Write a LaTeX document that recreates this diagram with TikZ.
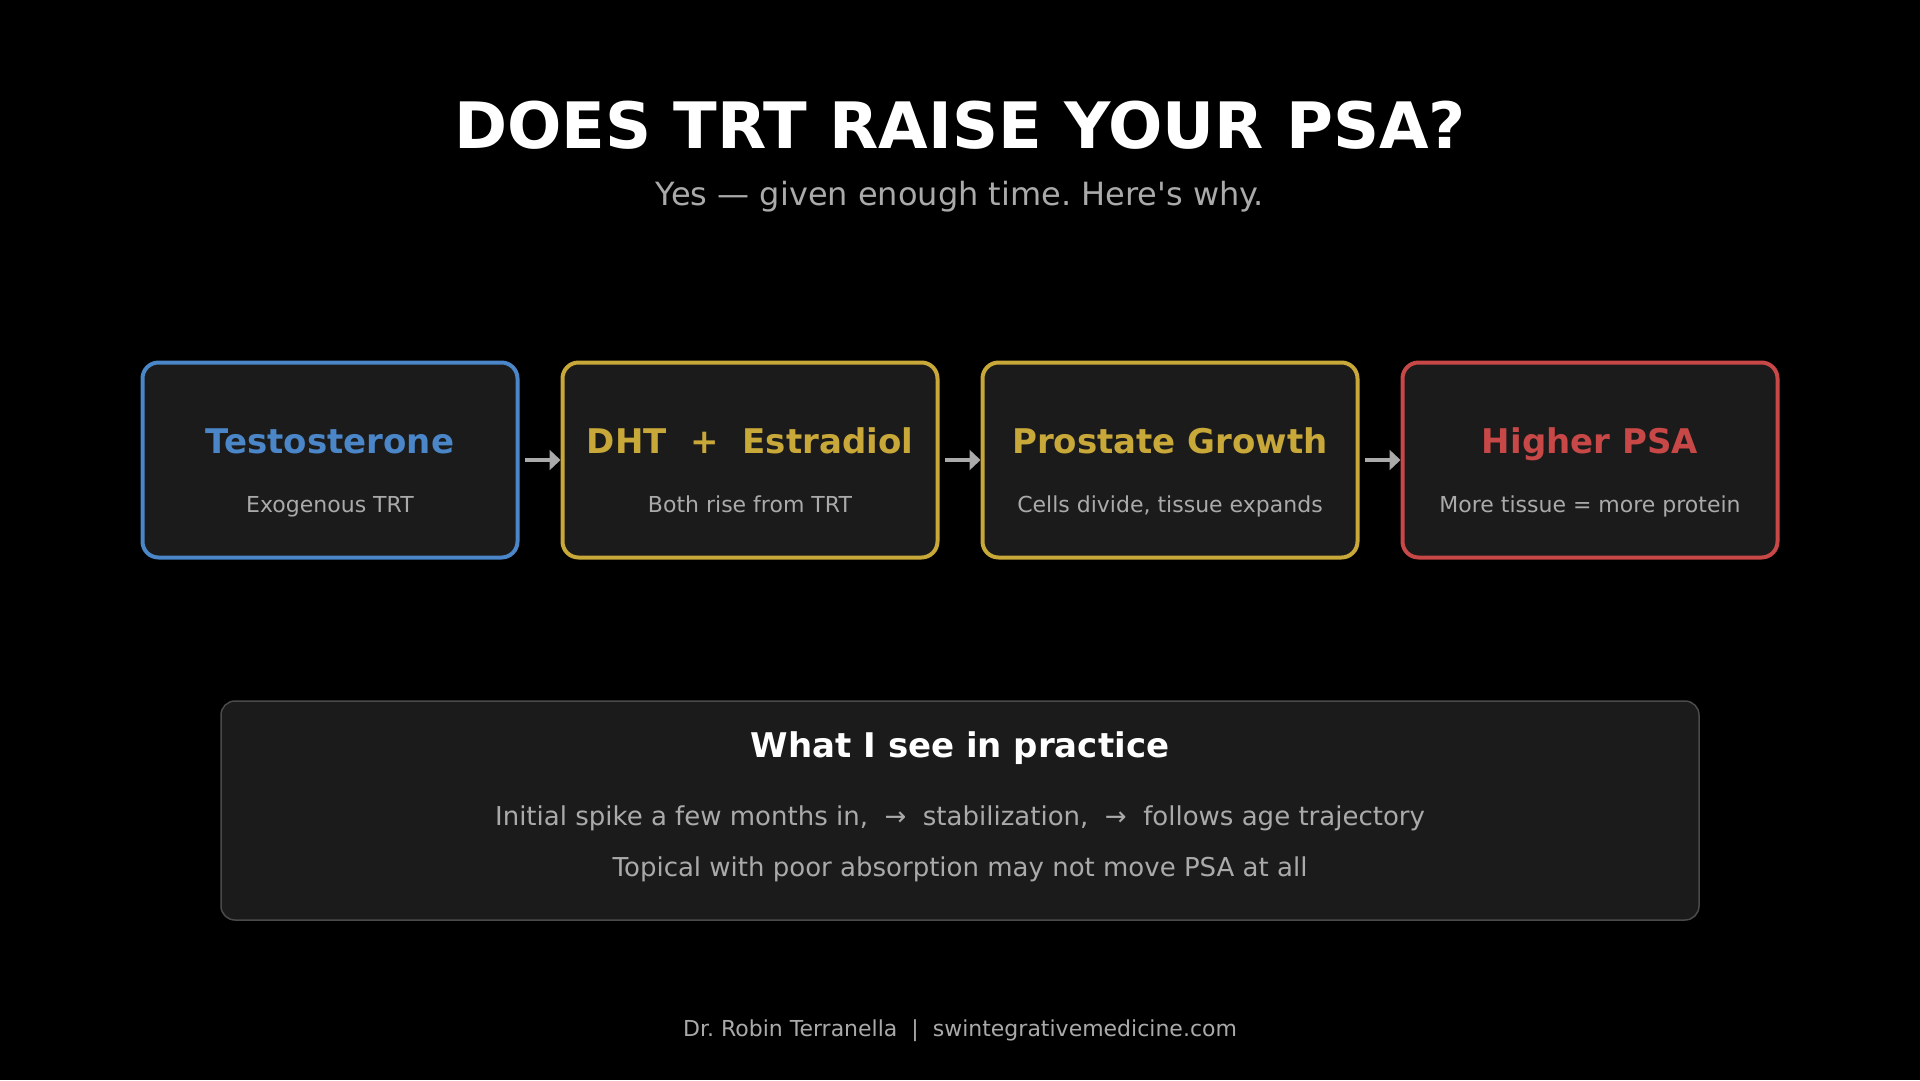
\documentclass[tikz,border=0pt]{standalone}
\usepackage{fontspec}
\setmainfont{DejaVu Sans}
\usetikzlibrary{arrows.meta}
\definecolor{boxfill}{HTML}{1B1B1B}
\definecolor{tblue}{HTML}{4A86C8}
\definecolor{dgold}{HTML}{C9A83A}
\definecolor{pred}{HTML}{C84848}
\definecolor{softgray}{HTML}{AAAAAA}
\definecolor{edgegray}{HTML}{4A4A4A}
\frenchspacing

\begin{document}
\begin{tikzpicture}[x=1pt, y=-1pt,
    stage/.style={draw=#1, line width=4pt, fill=boxfill, rounded corners=16pt,
      minimum width=375pt, minimum height=195pt},
    stagetitle/.style={text=#1, font=\fontsize{34}{40}\selectfont\bfseries, anchor=base},
    stagenote/.style={text=softgray, font=\fontsize{22}{26}\selectfont, anchor=base},
    flow/.style={draw=softgray, line width=4pt, -{Triangle[length=11pt, width=20pt]}, shorten <=5pt}]
    \fill[black] (0,0) rectangle (1920,1080);
    \node[text=white, font=\fontsize{64}{76}\selectfont\bfseries, anchor=base] (title) at (960,148) {DOES TRT RAISE YOUR PSA?};
    \node[text=softgray, font=\fontsize{32}{38}\selectfont, anchor=base] (subtitle) at (960,205) {Yes — given enough time. Here\textquotesingle s why.};

    \node[stage=tblue] (testo) at (330,460) {};
    \node[stage=dgold] (dht) at (750,460) {};
    \node[stage=dgold] (growth) at (1170,460) {};
    \node[stage=pred] (psa) at (1590,460) {};

    \node[stagetitle=tblue] (testoname) at (330,453) {Testosterone};
    \node[stagenote] (testonote) at (330,512) {Exogenous TRT};
    \node[stagetitle=dgold] (dhtname) at (750,453) {DHT\ \ +\ \ Estradiol};
    \node[stagenote] (dhtnote) at (750,512) {Both rise from TRT};
    \node[stagetitle=dgold] (growthname) at (1170,453) {Prostate Growth};
    \node[stagenote] (growthnote) at (1170,512) {Cells divide, tissue expands};
    \node[stagetitle=pred] (psaname) at (1590,453) {Higher PSA};
    \node[stagenote] (psanote) at (1590,512) {More tissue = more protein};

    \draw[flow] (testo) -- (dht);
    \draw[flow] (dht) -- (growth);
    \draw[flow] (growth) -- (psa);

    \node[draw=edgegray, line width=1.5pt, fill=boxfill, rounded corners=14pt,
      minimum width=1478pt, minimum height=219pt] (practice) at (960,810.5) {};
    \node[text=white, font=\fontsize{34}{40}\selectfont\bfseries, anchor=base] (practicetitle) at (960,757) {What I see in practice};
    \node[text=softgray, font=\fontsize{26}{31}\selectfont, anchor=base] (lineone) at (960,825) {Initial spike a few months in,\ \ →\ \ stabilization,\ \ →\ \ follows age trajectory};
    \node[text=softgray, font=\fontsize{26}{31}\selectfont, anchor=base] (linetwo) at (960,876) {Topical with poor absorption may not move PSA at all};

    \node[text=softgray, font=\fontsize{22}{26}\selectfont, anchor=base] (footer) at (960,1036) {Dr. Robin Terranella\ \ |\ \ swintegrativemedicine.com};
\end{tikzpicture}
\end{document}
